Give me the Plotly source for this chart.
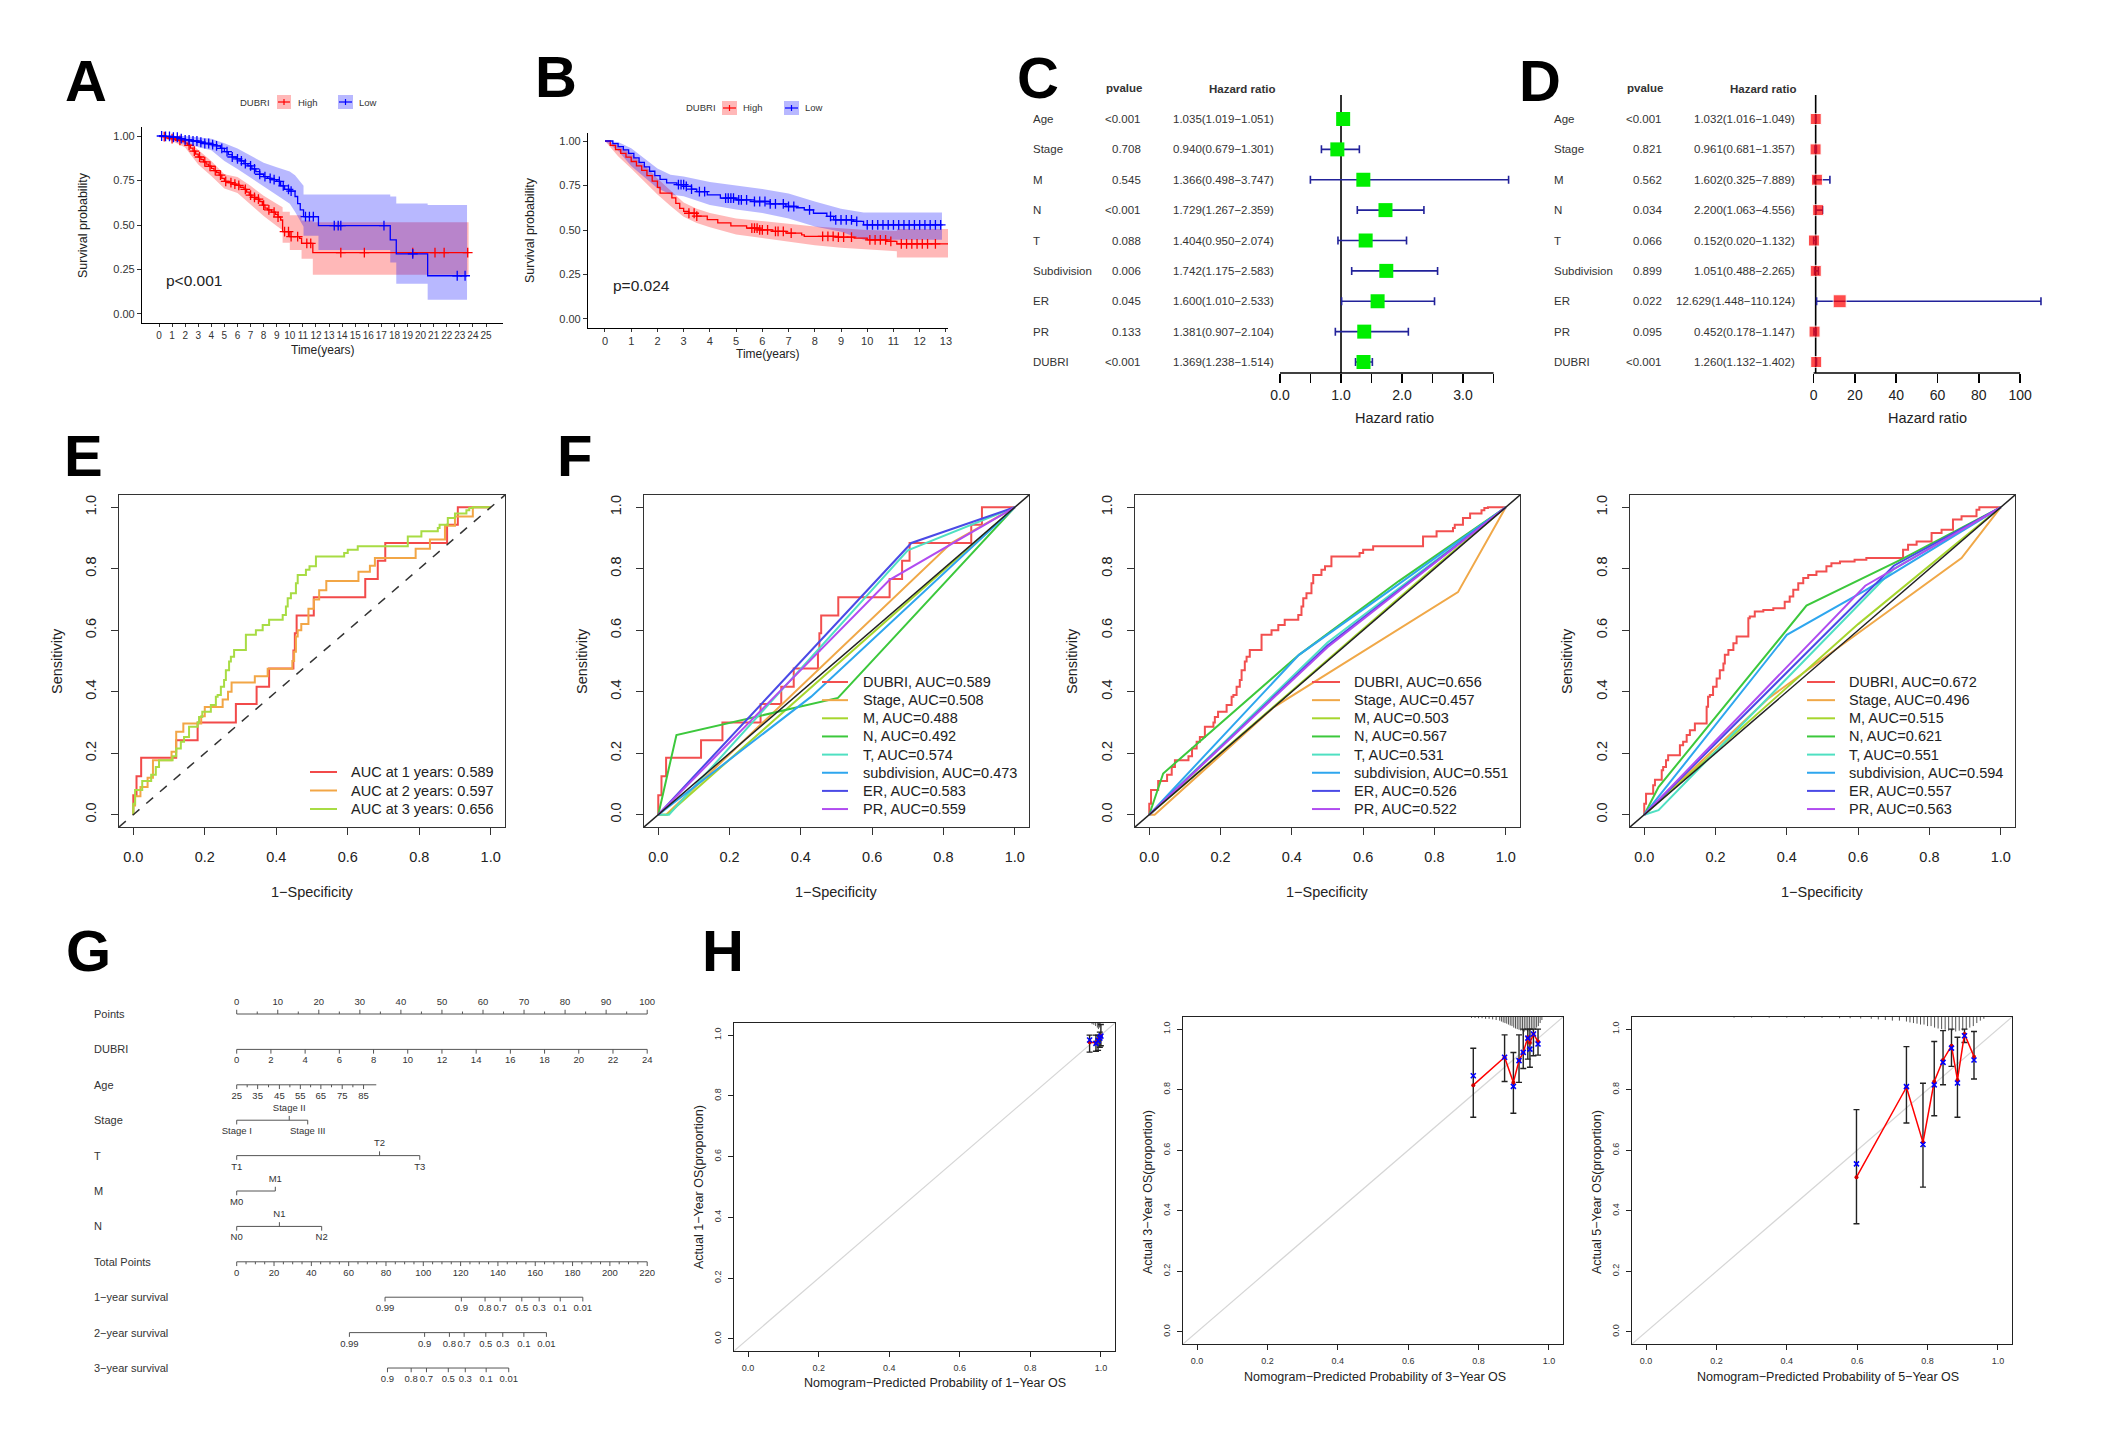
import numpy as np
import plotly.graph_objects as go

W, H = 2108, 1434
FONT = "Liberation Sans, Arial, Helvetica, sans-serif"

# ============================ DATA ============================
# ---- A : Kaplan-Meier, training cohort
A_high_t = [0, 0.3, 0.6, 0.9, 1.2, 1.5, 1.8, 2.0, 2.2, 2.4, 2.6, 2.8, 3.0, 3.2, 3.4, 3.6, 3.8, 4.0, 4.2, 4.4,
            4.6, 4.8, 5.0, 5.3, 5.6, 5.9, 6.2, 6.5, 6.7, 6.9, 7.1, 7.4, 7.7, 7.9, 8.1, 8.3, 8.6, 8.9, 9.1, 9.3,
            9.45, 10.0, 10.75, 10.9, 11.76, 23.67]
A_high_s = [1.0, 0.996, 0.99, 0.985, 0.98, 0.975, 0.968, 0.96, 0.948, 0.932, 0.915, 0.898, 0.882, 0.868, 0.855,
            0.842, 0.83, 0.818, 0.806, 0.795, 0.78, 0.762, 0.745, 0.738, 0.73, 0.723, 0.712, 0.70, 0.685, 0.668,
            0.655, 0.645, 0.632, 0.612, 0.595, 0.585, 0.572, 0.56, 0.545, 0.528, 0.463, 0.435, 0.425, 0.397,
            0.345, 0.345]
A_high_band_t = [0, 1, 2, 3, 4, 5, 6, 7, 8, 9, 9.45, 9.45, 10.0, 10.0, 10.9, 10.9, 11.76, 11.76, 23.67]
A_high_up = [1.0, 0.998, 0.985, 0.925, 0.86, 0.785, 0.77, 0.72, 0.665, 0.62, 0.60, 0.575, 0.575, 0.555, 0.555,
             0.525, 0.525, 0.515, 0.515]
A_high_lo = [1.0, 0.972, 0.935, 0.84, 0.775, 0.705, 0.68, 0.615, 0.55, 0.495, 0.47, 0.40, 0.40, 0.36, 0.36,
             0.31, 0.31, 0.22, 0.22]
A_low_t = [0, 0.5, 1.0, 1.5, 2.0, 2.5, 3.0, 3.5, 4.0, 4.4, 4.7, 5.0, 5.3, 5.6, 5.9, 6.2, 6.5, 6.8, 7.1, 7.4,
           7.7, 8.0, 8.3, 8.6, 9.0, 9.3, 9.6, 10.0, 10.4, 10.6, 10.8, 11.05, 12.19, 17.68, 18.14, 20.54, 23.55]
A_low_s = [1.0, 0.998, 0.993, 0.985, 0.978, 0.972, 0.965, 0.958, 0.952, 0.945, 0.93, 0.912, 0.895, 0.882, 0.872,
           0.86, 0.845, 0.832, 0.815, 0.80, 0.785, 0.772, 0.762, 0.755, 0.745, 0.72, 0.70, 0.69, 0.66, 0.62,
           0.585, 0.547, 0.496, 0.416, 0.338, 0.215, 0.215]
A_low_band_t = [0, 2, 4, 5, 6, 7, 8, 9, 10, 10.4, 10.8, 11.05, 11.05, 12.19, 12.19, 17.68, 17.68, 18.14, 18.14,
                20.54, 20.54, 23.55]
A_low_up = [1.0, 1.0, 0.985, 0.96, 0.93, 0.89, 0.85, 0.825, 0.80, 0.78, 0.745, 0.72, 0.672, 0.672, 0.672, 0.672,
            0.66, 0.66, 0.621, 0.621, 0.612, 0.612]
A_low_lo = [1.0, 0.955, 0.92, 0.86, 0.815, 0.765, 0.715, 0.67, 0.62, 0.575, 0.52, 0.49, 0.44, 0.44, 0.36, 0.36,
            0.29, 0.29, 0.17, 0.17, 0.08, 0.08]
A_high_cens = [0.4, 1.0, 1.6, 2.3, 2.7, 3.1, 3.5, 3.9, 4.3, 4.7, 5.1, 5.5, 5.8, 6.1, 6.6, 7.0, 7.3, 7.6, 8.0, 8.4,
               8.8, 9.1, 9.6, 9.9, 10.1, 10.6, 11.3, 11.6, 13.9, 15.7, 19.4, 21.1, 21.8, 23.6]
A_low_cens = [0.2, 0.5, 0.8, 1.1, 1.4, 1.7, 2.0, 2.3, 2.6, 2.9, 3.2, 3.5, 3.8, 4.1, 4.4, 4.8, 5.2, 5.6, 6.0, 6.3,
              6.6, 7.0, 7.3, 7.7, 8.1, 8.5, 8.8, 9.2, 9.5, 9.9, 10.1, 11.2, 11.5, 11.8, 13.4, 13.7, 13.9, 17.2,
              19.4, 22.8, 23.4]
A_xticks = list(range(0, 26))
A_pval = "p<0.001"

# ---- B : Kaplan-Meier, validation cohort
B_high_t = [0, 0.2, 0.4, 0.6, 0.8, 1.0, 1.2, 1.4, 1.6, 1.8, 2.0, 2.1, 2.55, 2.7, 2.85, 3.0, 3.2, 3.5, 3.9, 4.3,
            4.8, 5.4, 5.9, 6.4, 6.9, 7.5, 7.6, 8.8, 9.5, 10.0, 10.75, 11.13, 13.1]
B_high_s = [1.0, 0.975, 0.952, 0.93, 0.91, 0.885, 0.86, 0.835, 0.805, 0.775, 0.74, 0.707, 0.68, 0.65, 0.622,
            0.605, 0.594, 0.578, 0.558, 0.54, 0.523, 0.51, 0.501, 0.492, 0.482, 0.473, 0.464, 0.46, 0.454, 0.445,
            0.436, 0.422, 0.422]
B_high_band_t = [0, 0.5, 1, 1.5, 2, 2.5, 3, 3.5, 4, 5, 6, 7, 8, 9, 10, 11.13, 11.13, 13.1]
B_high_up = [1.0, 0.975, 0.93, 0.865, 0.79, 0.72, 0.655, 0.62, 0.595, 0.565, 0.55, 0.535, 0.52, 0.51, 0.50,
             0.495, 0.505, 0.505]
B_high_lo = [1.0, 0.915, 0.845, 0.77, 0.70, 0.635, 0.575, 0.54, 0.515, 0.475, 0.455, 0.435, 0.415, 0.40, 0.39,
             0.38, 0.345, 0.345]
B_low_t = [0, 0.3, 0.5, 0.7, 0.9, 1.1, 1.3, 1.5, 1.7, 1.9, 2.1, 2.35, 2.74, 3.1, 3.3, 3.5, 3.9, 4.4, 5.0, 5.7,
           6.3, 6.9, 7.3, 7.6, 7.95, 8.46, 8.72, 9.48, 9.86, 12.85]
B_low_s = [1.0, 0.985, 0.968, 0.95, 0.93, 0.905, 0.88, 0.855, 0.83, 0.805, 0.785, 0.765, 0.755, 0.745, 0.73,
           0.716, 0.697, 0.679, 0.669, 0.66, 0.647, 0.632, 0.625, 0.613, 0.594, 0.576, 0.557, 0.548, 0.529, 0.525]
B_low_band_t = [0, 0.5, 1, 1.5, 2, 2.5, 3, 4, 5, 6, 7, 8, 9, 9.86, 12.85]
B_low_up = [1.0, 0.995, 0.96, 0.905, 0.845, 0.81, 0.80, 0.77, 0.75, 0.73, 0.705, 0.66, 0.62, 0.598, 0.598]
B_low_lo = [1.0, 0.945, 0.86, 0.80, 0.735, 0.70, 0.69, 0.64, 0.615, 0.595, 0.565, 0.52, 0.49, 0.445, 0.445]
B_high_cens = [3.2, 3.4, 3.5, 5.6, 5.7, 5.8, 5.9, 6.0, 6.2, 6.5, 6.6, 6.8, 7.1, 8.3, 8.5, 8.7, 8.9, 9.1, 9.4,
               10.1, 10.3, 10.5, 10.7, 10.9, 11.3, 11.5, 11.7, 11.9, 12.1, 12.3, 12.6]
B_low_cens = [2.8, 2.9, 3.0, 3.1, 3.3, 3.6, 3.8, 4.6, 4.7, 4.8, 4.9, 5.1, 5.2, 5.4, 5.7, 5.9, 6.1, 6.3, 6.5, 6.8,
              7.0, 7.2, 7.8, 8.6, 8.8, 9.0, 9.2, 9.4, 9.6, 10.0, 10.2, 10.4, 10.6, 10.8, 11.0, 11.2, 11.4, 11.6,
              11.8, 12.0, 12.2, 12.4, 12.6, 12.8]
B_xticks = list(range(0, 14))
B_pval = "p=0.024"

# ---- C / D : forest plots (univariate / multivariate Cox)
FOREST_ROWS = ["Age", "Stage", "M", "N", "T", "Subdivision", "ER", "PR", "DUBRI"]
C_p = ["<0.001", "0.708", "0.545", "<0.001", "0.088", "0.006", "0.045", "0.133", "<0.001"]
C_hr = [1.035, 0.940, 1.366, 1.729, 1.404, 1.742, 1.600, 1.381, 1.369]
C_lo = [1.019, 0.679, 0.498, 1.267, 0.950, 1.175, 1.010, 0.907, 1.238]
C_hi = [1.051, 1.301, 3.747, 2.359, 2.074, 2.583, 2.533, 2.104, 1.514]
D_p = ["<0.001", "0.821", "0.562", "0.034", "0.066", "0.899", "0.022", "0.095", "<0.001"]
D_hr = [1.032, 0.961, 1.602, 2.200, 0.152, 1.051, 12.629, 0.452, 1.260]
D_lo = [1.016, 0.681, 0.325, 1.063, 0.020, 0.488, 1.448, 0.178, 1.132]
D_hi = [1.049, 1.357, 7.889, 4.556, 1.132, 2.265, 110.124, 1.147, 1.402]
C_ticks = [0, 0.5, 1, 1.5, 2, 2.5, 3, 3.5]
C_ticktext = ["0.0", "", "1.0", "", "2.0", "", "3.0", ""]
D_ticks = [0, 20, 40, 60, 80, 100]

# ---- E / F : time-dependent ROC curves (fpr, tpr) corner points
ROC_DUBRI_1Y = [(0, 0), (0.009, 0.063), (0.022, 0.125), (0.12, 0.185), (0.18, 0.242), (0.287, 0.30),
                (0.345, 0.36), (0.38, 0.416), (0.448, 0.476), (0.452, 0.534), (0.457, 0.59), (0.505, 0.648),
                (0.649, 0.707), (0.684, 0.767), (0.705, 0.826), (0.878, 0.884), (0.908, 0.943), (1.0, 1.0)]
ROC_DUBRI_2Y = [(0, 0), (0.005, 0.03), (0.02, 0.06), (0.04, 0.09), (0.055, 0.12), (0.107, 0.177),
                (0.12, 0.205), (0.14, 0.27), (0.19, 0.297), (0.20, 0.32), (0.25, 0.35), (0.265, 0.375),
                (0.275, 0.40), (0.34, 0.43), (0.376, 0.45), (0.445, 0.475), (0.45, 0.50), (0.455, 0.53),
                (0.46, 0.58), (0.47, 0.60), (0.49, 0.62), (0.505, 0.67), (0.52, 0.70), (0.54, 0.73),
                (0.63, 0.76), (0.662, 0.79), (0.676, 0.81), (0.79, 0.835), (0.83, 0.865), (0.872, 0.895),
                (0.90, 0.94), (0.95, 0.97), (1.0, 1.0)]
ROC_DUBRI_3Y = [(0, 0), (0.005, 0.036), (0.025, 0.08), (0.05, 0.11), (0.063, 0.13), (0.072, 0.155),
                (0.081, 0.177), (0.11, 0.177), (0.12, 0.19), (0.133, 0.215), (0.142, 0.237), (0.156, 0.253),
                (0.18, 0.286), (0.184, 0.30), (0.193, 0.318), (0.217, 0.335), (0.231, 0.357), (0.236, 0.384),
                (0.245, 0.389), (0.254, 0.416), (0.259, 0.438), (0.268, 0.47), (0.273, 0.498), (0.282, 0.514),
                (0.315, 0.536), (0.324, 0.585), (0.343, 0.585), (0.362, 0.60), (0.38, 0.617), (0.418, 0.634),
                (0.427, 0.65), (0.432, 0.677), (0.441, 0.704), (0.455, 0.72), (0.46, 0.753), (0.483, 0.78),
                (0.493, 0.797), (0.511, 0.808), (0.59, 0.84), (0.60, 0.851), (0.628, 0.862), (0.656, 0.873),
                (0.768, 0.873), (0.806, 0.905), (0.852, 0.922), (0.857, 0.933), (0.88, 0.943), (0.90, 0.965),
                (0.932, 0.98), (0.94, 0.99), (0.95, 0.998), (1.0, 1.0)]
ROC_DUBRI_5Y = [(0, 0), (0.005, 0.036), (0.025, 0.068), (0.03, 0.096), (0.049, 0.114), (0.053, 0.145),
                (0.061, 0.155), (0.067, 0.177), (0.1, 0.193), (0.109, 0.226), (0.119, 0.237), (0.128, 0.259),
                (0.142, 0.275), (0.175, 0.297), (0.179, 0.351), (0.184, 0.384), (0.193, 0.389), (0.203, 0.416),
                (0.212, 0.443), (0.222, 0.47), (0.226, 0.492), (0.236, 0.52), (0.25, 0.536), (0.259, 0.558),
                (0.292, 0.58), (0.296, 0.639), (0.31, 0.645), (0.334, 0.661), (0.362, 0.666), (0.394, 0.672),
                (0.408, 0.693), (0.418, 0.71), (0.432, 0.732), (0.446, 0.753), (0.46, 0.77), (0.483, 0.78),
                (0.511, 0.791), (0.525, 0.808), (0.549, 0.818), (0.59, 0.824), (0.623, 0.829), (0.726, 0.835),
                (0.74, 0.862), (0.764, 0.878), (0.806, 0.889), (0.834, 0.916), (0.866, 0.927), (0.89, 0.96),
                (0.932, 0.971), (0.94, 0.992), (0.963, 1.0), (1.0, 1.0)]
E_labels = ["AUC at 1 years: ", "AUC at 2 years: ", "AUC at 3 years: "]
E_auc = [0.589, 0.597, 0.656]

F_vars = ["DUBRI", "Stage", "M", "N", "T", "subdivision", "ER", "PR"]
F1_other = [
    [(0, 0), (0.022, 0), (0.822, 0.884), (1, 1)],                       # Stage
    [(0, 0), (0.025, 0), (1, 1)],                                       # M
    [(0, 0), (0.051, 0.259), (0.504, 0.38), (1, 1)],                    # N
    [(0, 0), (0.03, 0), (0.70, 0.86), (1, 1)],                          # T
    [(0, 0), (0.429, 0.384), (1, 1)],                                   # subdivision
    [(0, 0), (0.71, 0.884), (1, 1)],                                    # ER
    [(0, 0), (0.649, 0.764), (1, 1)],                                   # PR
]
F2_other = [
    [(0, 0), (0.015, 0), (0.35, 0.35), (0.866, 0.724), (1, 1)],
    [(0, 0), (0.8, 0.805), (1, 1)],
    [(0, 0), (0.039, 0.134), (0.42, 0.52), (0.70, 0.76), (1, 1)],
    [(0, 0), (0.5, 0.56), (1, 1)],
    [(0, 0), (0.42, 0.52), (0.69, 0.742), (1, 1)],
    [(0, 0), (0.5, 0.55), (1, 1)],
    [(0, 0), (0.5, 0.545), (1, 1)],
]
F3_other = [
    [(0, 0), (0.35, 0.38), (0.89, 0.835), (1, 1)],
    [(0, 0), (0.6, 0.62), (1, 1)],
    [(0, 0), (0.04, 0.09), (0.455, 0.68), (0.72, 0.83), (1, 1)],
    [(0, 0), (0.04, 0.015), (0.70, 0.80), (1, 1)],
    [(0, 0), (0.40, 0.585), (0.62, 0.73), (1, 1)],
    [(0, 0), (0.70, 0.81), (1, 1)],
    [(0, 0), (0.62, 0.745), (1, 1)],
]
F1_auc = [0.589, 0.508, 0.488, 0.492, 0.574, 0.473, 0.583, 0.559]
F2_auc = [0.656, 0.457, 0.503, 0.567, 0.531, 0.551, 0.526, 0.522]
F3_auc = [0.672, 0.496, 0.515, 0.621, 0.551, 0.594, 0.557, 0.563]

# ---- G : nomogram
G_rows = ["Points", "DUBRI", "Age", "Stage", "T", "M", "N", "Total Points",
          "1\u2212year survival", "2\u2212year survival", "3\u2212year survival"]
G_points_labels = [0, 10, 20, 30, 40, 50, 60, 70, 80, 90, 100]
G_dubri_labels = [0, 2, 4, 6, 8, 10, 12, 14, 16, 18, 20, 22, 24]
G_dubri_max = 24
G_age_labels = [25, 35, 45, 55, 65, 75, 85]
G_age_pts = [0, 5.1, 10.4, 15.5, 20.5, 25.7, 30.9]
G_age_end_pts = 34.0
G_stage_labels = ["Stage I", "Stage II", "Stage III"]
G_stage_pts = [0, 12.8, 17.3]
G_T_labels = ["T1", "T2", "T3"]
G_T_pts = [0, 34.8, 44.6]
G_M_labels = ["M0", "M1"]
G_M_pts = [0, 9.4]
G_N_labels = ["N0", "N1", "N2"]
G_N_pts = [0, 10.4, 20.7]
G_total_labels = [0, 20, 40, 60, 80, 100, 120, 140, 160, 180, 200, 220]
G_total_max = 220
G_surv12_labels = ["0.99", "0.9", "0.8", "0.7", "0.5", "0.3", "0.1", "0.01"]
G_1yr_total = [79.5, 120.4, 133.1, 141.2, 152.8, 162.1, 173.4, 185.5]
G_2yr_total = [60.4, 100.7, 114.0, 121.9, 133.5, 142.6, 153.9, 166.0]
G_surv3_labels = ["0.9", "0.8", "0.7", "0.5", "0.3", "0.1", "0.01"]
G_3yr_total = [80.8, 93.5, 101.7, 113.4, 122.5, 133.7, 145.8]

# ---- H : calibration curves
H1_pred = [0.968, 0.986, 0.992, 0.997, 1.0]
H1_app = [0.977, 0.975, 0.985, 0.992, 0.998]
H1_bc = [0.984, 0.973, 0.982, 0.99, 0.997]
H1_lo = [0.944, 0.947, 0.95, 0.96, 0.965]
H1_hi = [1.0, 1.0, 1.0, 1.01, 1.035]
H1_rug_x = [0.975, 0.98, 0.985, 0.99, 0.993, 0.996, 0.998]
H1_rug_h = [0.004, 0.006, 0.01, 0.015, 0.02, 0.015, 0.01]
H2_pred = [0.785, 0.874, 0.899, 0.915, 0.927, 0.94, 0.946, 0.956, 0.969]
H2_app = [0.815, 0.907, 0.824, 0.896, 0.923, 0.973, 0.955, 0.984, 0.959]
H2_bc = [0.846, 0.907, 0.811, 0.896, 0.923, 0.97, 0.934, 0.984, 0.951]
H2_lo = [0.709, 0.827, 0.722, 0.824, 0.87, 0.901, 0.874, 0.912, 0.914]
H2_hi = [0.937, 0.981, 0.923, 0.981, 1.0, 1.0, 1.0, 1.0, 1.0]
H2_rug_x = [0.78, 0.79, 0.80, 0.81, 0.82, 0.83, 0.84, 0.85, 0.86, 0.865, 0.87, 0.875, 0.88, 0.885, 0.89,
            0.895, 0.90, 0.905, 0.91, 0.915, 0.92, 0.925, 0.93, 0.935, 0.94, 0.945, 0.95, 0.955, 0.96, 0.965,
            0.97, 0.975, 0.98]
H2_rug_h = [0.003, 0.003, 0.004, 0.004, 0.006, 0.006, 0.008, 0.01, 0.012, 0.015, 0.018, 0.02, 0.022, 0.025,
            0.028, 0.03, 0.035, 0.038, 0.04, 0.042, 0.045, 0.045, 0.048, 0.045, 0.048, 0.045, 0.042, 0.045,
            0.04, 0.035, 0.03, 0.02, 0.01]
H3_pred = [0.598, 0.74, 0.787, 0.819, 0.844, 0.868, 0.885, 0.905, 0.932]
H3_app = [0.511, 0.808, 0.626, 0.827, 0.898, 0.945, 0.832, 0.984, 0.909]
H3_bc = [0.555, 0.81, 0.619, 0.816, 0.89, 0.937, 0.822, 0.978, 0.898]
H3_lo = [0.357, 0.69, 0.478, 0.714, 0.816, 0.877, 0.709, 0.956, 0.835]
H3_hi = [0.734, 0.942, 0.821, 0.959, 0.995, 1.0, 0.973, 1.0, 0.992]
H3_rug_x = [0.25, 0.30, 0.35, 0.40, 0.45, 0.50, 0.55, 0.58, 0.61, 0.64, 0.66, 0.68, 0.70, 0.72, 0.74, 0.75,
            0.76, 0.77, 0.78, 0.79, 0.80, 0.81, 0.82, 0.83, 0.84, 0.85, 0.86, 0.87, 0.88, 0.89, 0.90, 0.91,
            0.92, 0.93, 0.94, 0.95, 0.96]
H3_rug_h = [0.002, 0.002, 0.002, 0.002, 0.003, 0.003, 0.004, 0.004, 0.005, 0.006, 0.008, 0.01, 0.012, 0.012,
            0.015, 0.018, 0.02, 0.022, 0.025, 0.025, 0.03, 0.03, 0.035, 0.038, 0.04, 0.042, 0.045, 0.045,
            0.048, 0.045, 0.045, 0.04, 0.035, 0.03, 0.02, 0.012, 0.006]
UNIT_TICKS = [0, 0.2, 0.4, 0.6, 0.8, 1.0]
UNIT_TICKTEXT = ["0.0", "0.2", "0.4", "0.6", "0.8", "1.0"]

# ============================ HELPERS ============================
def X(p):
    return p / W


def Y(p):
    return 1 - p / H


layout = dict(width=W, height=H, margin=dict(l=0, r=0, t=0, b=0), paper_bgcolor="white",
              plot_bgcolor="white", showlegend=False, hovermode=False, template="none",
              font=dict(family=FONT, color="#222"))
traces, ann, shapes = [], [], []
_n = [0]


def new_axes(box, xr, yr, xs=None, ys=None):
    _n[0] += 1
    k = _n[0]
    s = "" if k == 1 else str(k)
    x0, x1, yt, yb = box
    xa = dict(domain=[X(x0), X(x1)], range=xr, anchor="y" + s, showgrid=False, zeroline=False, fixedrange=True)
    ya = dict(domain=[Y(yb), Y(yt)], range=yr, anchor="x" + s, showgrid=False, zeroline=False, fixedrange=True)
    if xs:
        xa.update(xs)
    if ys:
        ya.update(ys)
    layout["xaxis" + s] = xa
    layout["yaxis" + s] = ya
    return "x" + s, "y" + s


def text(x, y, t, size, anchor="left", valign="middle", bold=False, angle=0, color="#222",
         xref="paper", yref="paper"):
    ann.append(dict(x=X(x) if xref == "paper" else x, y=Y(y) if yref == "paper" else y,
                    xref=xref, yref=yref, text=("<b>%s</b>" % t) if bold else t, showarrow=False,
                    xanchor=anchor, yanchor=valign, textangle=angle,
                    font=dict(family=FONT, size=size, color=color)))


def pline(x0, y0, x1, y1, color, width, dash=None):
    d = dict(type="line", xref="paper", yref="paper", x0=X(x0), y0=Y(y0), x1=X(x1), y1=Y(y1),
             line=dict(color=color, width=width))
    if dash:
        d["line"]["dash"] = dash
    shapes.append(d)


def unzip(pairs):
    return [p[0] for p in pairs], [p[1] for p in pairs]


def step_at(t, s, tc):
    idx = np.searchsorted(np.array(t), np.array(tc), side="right") - 1
    return [s[i] for i in idx]


# ============================ PANEL LETTERS ============================
for L, lx, ly in [("A", 63, 81), ("B", 533, 77), ("C", 1015, 78), ("D", 1517, 81),
                  ("E", 62, 456), ("F", 555, 456), ("G", 64, 950), ("H", 700, 950)]:
    text(lx, ly, L, 58, bold=True, color="black")

# ============================ A / B : KM ============================
RED, BLUE = "#FF0000", "#0000FF"
RED_F, BLUE_F = "rgba(255,0,0,0.28)", "rgba(0,0,255,0.28)"


def km_panel(box, xr, yr, xticks, xtick_size, groups, pval, p_xy, ytitle_xy, xtitle_xy, legend):
    gx = dict(showline=True, linecolor="black", linewidth=1.1, ticks="outside", ticklen=3, tickwidth=1,
              tickcolor="#333", tickvals=xticks, tickangle=0, tickfont=dict(size=xtick_size, color="#333"))
    gy = dict(showline=True, linecolor="black", linewidth=1.1, ticks="outside", ticklen=4, tickwidth=1,
              tickcolor="#333", tickvals=[0, 0.25, 0.5, 0.75, 1.0],
              ticktext=["0.00", "0.25", "0.50", "0.75", "1.00"], tickfont=dict(size=11, color="#333"))
    xa, ya = new_axes(box, xr, yr, gx, gy)
    for g in groups:
        traces.append(go.Scatter(x=g["bt"], y=g["bl"], mode="lines", line=dict(width=0, color=g["col"]),
                                 xaxis=xa, yaxis=ya))
        traces.append(go.Scatter(x=g["bt"], y=g["bu"], mode="lines", line=dict(width=0, color=g["col"]),
                                 fill="tonexty", fillcolor=g["fill"], xaxis=xa, yaxis=ya))
    for g in groups:
        traces.append(go.Scatter(x=g["t"], y=g["s"], mode="lines", line=dict(color=g["col"], width=1.3,
                                 shape="hv"), xaxis=xa, yaxis=ya))
        traces.append(go.Scatter(x=g["c"], y=step_at(g["t"], g["s"], g["c"]), mode="markers",
                                 marker=dict(symbol="cross-thin", size=7, line=dict(width=1.3, color=g["col"])),
                                 xaxis=xa, yaxis=ya))
    text(p_xy[0], p_xy[1], pval, 15.5, color="#222")
    text(ytitle_xy[0], ytitle_xy[1], "Survival probability", 12.5, anchor="center", angle=-90)
    text(xtitle_xy[0], xtitle_xy[1], "Time(years)", 12, anchor="center")
    dcx, ly, keys = legend
    text(dcx, ly, "DUBRI", 9.5, anchor="center", color="#333")
    for (k0, k1, col, fill, lab_x, lab) in keys:
        shapes.append(dict(type="rect", xref="paper", yref="paper", x0=X(k0), x1=X(k1), y0=Y(ly + 7),
                           y1=Y(ly - 7), fillcolor=fill, line=dict(width=0)))
        pline(k0 + 1, ly, k1 - 1, ly, col, 1.2)
        pline((k0 + k1) / 2, ly - 3, (k0 + k1) / 2, ly + 3, col, 1.2)
        text(lab_x, ly, lab, 9.5, color="#333")


km_panel((142, 503, 127, 323), [-1.3, 26.3], [-0.0506, 1.0506], A_xticks, 10,
         [dict(t=A_high_t, s=A_high_s, bt=A_high_band_t, bu=A_high_up, bl=A_high_lo, c=A_high_cens,
               col=RED, fill=RED_F),
          dict(t=A_low_t, s=A_low_s, bt=A_low_band_t, bu=A_low_up, bl=A_low_lo, c=A_low_cens,
               col=BLUE, fill=BLUE_F)],
         A_pval, (164, 280), (83, 225), (323, 350),
         (254.5, 102, [(277, 291, RED, RED_F, 296, "High"), (338, 353, BLUE, BLUE_F, 357, "Low")]))

km_panel((588, 948, 133, 328), [-0.648, 13.08], [-0.0506, 1.045], B_xticks, 11,
         [dict(t=B_high_t, s=B_high_s, bt=B_high_band_t, bu=B_high_up, bl=B_high_lo, c=B_high_cens,
               col=RED, fill=RED_F),
          dict(t=B_low_t, s=B_low_s, bt=B_low_band_t, bu=B_low_up, bl=B_low_lo, c=B_low_cens,
               col=BLUE, fill=BLUE_F)],
         B_pval, (611, 285), (530, 230), (768, 354),
         (701, 108, [(722, 737, RED, RED_F, 741, "High"), (784, 799, BLUE, BLUE_F, 803, "Low")]))

# ============================ C / D : forest ============================
ROW_IDX = [9, 8, 7, 6, 5, 4, 3, 2, 1]


def forest(box, xr, axis_max, tickvals, ticktext, pv, hr, lo, hi, color, msize, cols, xlab_cx):
    fx = dict(showline=False, ticks="outside", ticklen=9, tickwidth=1.5, tickcolor="black",
              tickvals=tickvals, ticktext=ticktext, tickfont=dict(size=14, color="#222"))
    xa, ya = new_axes(box, xr, [0.638, 9.79], fx, dict(visible=False))
    shapes.append(dict(type="line", xref=xa, yref=ya + " domain", x0=0, x1=axis_max, y0=0, y1=0,
                       line=dict(color="black", width=1.6)))
    shapes.append(dict(type="line", xref=xa, yref=ya + " domain", x0=1, x1=1, y0=0, y1=1, layer="below",
                       line=dict(color="black", width=1.6)))
    traces.append(go.Scatter(x=hr, y=ROW_IDX, mode="markers",
                             marker=dict(symbol="square", size=msize, color=color),
                             error_x=dict(type="data", symmetric=False,
                                          array=[h - v for h, v in zip(hi, hr)],
                                          arrayminus=[v - l for v, l in zip(hr, lo)],
                                          color="#22229a", thickness=1.6, width=4),
                             xaxis=xa, yaxis=ya))
    for i, name in enumerate(FOREST_ROWS):
        text(cols[0], ROW_IDX[i], name, 11.5, yref=ya, color="#333")
        text(cols[1], ROW_IDX[i], pv[i], 11.5, anchor="right", yref=ya, color="#333")
        text(cols[2], ROW_IDX[i], "%.3f(%.3f\u2212%.3f)" % (hr[i], lo[i], hi[i]), 11.5, anchor="right",
             yref=ya, color="#333")
    text(cols[1] + 1, 88, "pvalue", 11.5, anchor="right", bold=True, color="#333")
    text(cols[2] + 1, 89, "Hazard ratio", 11.5, anchor="right", bold=True, color="#333")
    text(xlab_cx, 418, "Hazard ratio", 14.5, anchor="center")


forest((1270, 1515, 95, 373), [-0.164, 3.852], 3.5, C_ticks, C_ticktext, C_p, C_hr, C_lo, C_hi,
       "#00EE00", 14, (1031, 1143, 1276), 1394)
forest((1805, 2050, 95, 373), [-4.17, 114.5], 100, D_ticks, [str(v) for v in D_ticks], D_p, D_hr, D_lo,
       D_hi, "#FF0000", [11, 11, 11, 11, 11, 11, 13, 11, 11], (1552, 1664, 1797), 1927)

# ============================ E / F : ROC ============================
RB = dict(showline=True, mirror=True, linecolor="#333", linewidth=1.3, ticks="outside", ticklen=7,
          tickwidth=1.1, tickcolor="#333", tickvals=UNIT_TICKS, ticktext=UNIT_TICKTEXT,
          tickfont=dict(size=14.5, color="#222"), ticklabelstandoff=9)
E_COLORS = ["#F24A4A", "#F2A646", "#A8DC44"]
F_COLORS = ["#F24F4F", "#F0A848", "#A6D62E", "#3CC83C", "#4FE0C2", "#2EA6EE", "#4A4AE6", "#B04CF0"]


def roc_panel(box, curves, diag_dash, diag_color, leg_line, leg_text_x, leg_y, labels, ytitle_x):
    xa, ya = new_axes(box, [-0.04, 1.04], [-0.04, 1.04], dict(RB), dict(RB, tickangle=-90))
    for pairs, col, shp in curves:
        xs, ys = unzip(pairs)
        traces.append(go.Scatter(x=xs, y=ys, mode="lines", line=dict(color=col, width=2, shape=shp),
                                 xaxis=xa, yaxis=ya))
    traces.append(go.Scatter(x=[-0.04, 1.04], y=[-0.04, 1.04], mode="lines",
                             line=dict(color=diag_color, width=1.5, dash=diag_dash), xaxis=xa, yaxis=ya))
    for (pairs, col, shp), lab, ly in zip(curves, labels, leg_y):
        pline(leg_line[0], ly, leg_line[1], ly, col, 2)
        text(leg_text_x, ly, lab, 14.5)
    text(ytitle_x, (box[2] + box[3]) / 2, "Sensitivity", 14.5, anchor="center", angle=-90)
    text((box[0] + box[1]) / 2, 892, "1\u2212Specificity", 14.5, anchor="center")


roc_panel((119, 505, 495, 827),
          [(ROC_DUBRI_1Y, E_COLORS[0], "vh"), (ROC_DUBRI_2Y, E_COLORS[1], "vh"),
           (ROC_DUBRI_3Y, E_COLORS[2], "vh")],
          "dash", "#333", (310, 337), 349, [772, 790.5, 809],
          ["%s%.3f" % (l, a) for l, a in zip(E_labels, E_auc)], 57)

F_LEG_Y = [682 + i * 18.15 for i in range(8)]
for box, dubri, others, aucs, lline, ltx, ytx in [
        ((644, 1029, 495, 827), ROC_DUBRI_1Y, F1_other, F1_auc, (822, 848), 861, 582),
        ((1135, 1520, 495, 827), ROC_DUBRI_3Y, F2_other, F2_auc, (1312, 1340), 1352, 1072),
        ((1630, 2015, 495, 827), ROC_DUBRI_5Y, F3_other, F3_auc, (1807, 1835), 1847, 1567)]:
    curves = [(dubri, F_COLORS[0], "vh")] + [(o, c, "linear") for o, c in zip(others, F_COLORS[1:])]
    roc_panel(box, curves, "solid", "#222", lline, ltx, F_LEG_Y,
              ["%s, AUC=%.3f" % (v, a) for v, a in zip(F_vars, aucs)], ytx)

# ============================ G : nomogram ============================
gxa, gya = new_axes((224.4, 659.5, 990, 1390), [-3, 103], [0.379, 11.678], dict(visible=False),
                    dict(visible=False))
segx, segy, tx, ty, tt = [], [], [], [], []


def seg(x0, y0, x1, y1):
    segx.extend([x0, x1, None])
    segy.extend([y0, y1, None])


def lab(x, y, t):
    tx.append(x)
    ty.append(y)
    tt.append(t)


TK, tk, LO = 0.12, 0.07, 0.33
rows = {name: 11 - i for i, name in enumerate(G_rows)}

r = rows["Points"]
seg(0, r, 100, r)
for v in G_points_labels:
    seg(v, r, v, r + TK)
    lab(v, r + LO, str(v))
for a, b in zip(G_points_labels[:-1], G_points_labels[1:]):
    seg((a + b) / 2, r, (a + b) / 2, r + tk)

r = rows["DUBRI"]
seg(0, r, 100, r)
for v in G_dubri_labels:
    p = v / G_dubri_max * 100
    seg(p, r, p, r - TK)
    lab(p, r - LO, str(v))

r = rows["Age"]
seg(0, r, G_age_end_pts, r)
for v, p in zip(G_age_labels, G_age_pts):
    seg(p, r, p, r - TK)
    lab(p, r - LO, str(v))
for a, b in zip(G_age_pts[:-1], G_age_pts[1:]):
    seg((a + b) / 2, r, (a + b) / 2, r - tk)

for name, labels, pts, sides in [("Stage", G_stage_labels, G_stage_pts, ["b", "a", "b"]),
                                 ("T", G_T_labels, G_T_pts, ["b", "a", "b"]),
                                 ("M", G_M_labels, G_M_pts, ["b", "a"]),
                                 ("N", G_N_labels, G_N_pts, ["b", "a", "b"])]:
    r = rows[name]
    seg(min(pts), r, max(pts), r)
    for l, p, sd in zip(labels, pts, sides):
        d = 1 if sd == "a" else -1
        seg(p, r, p, r + d * TK)
        lab(p, r + d * LO, l)

r = rows["Total Points"]
seg(0, r, 100, r)
for v in G_total_labels:
    p = v / G_total_max * 100
    seg(p, r, p, r - TK)
    lab(p, r - LO, str(v))
for a, b in zip(G_total_labels[:-1], G_total_labels[1:]):
    for k in (1, 2, 3):
        p = (a + (b - a) * k / 4) / G_total_max * 100
        seg(p, r, p, r - tk)

for name, labels, totals in [(G_rows[8], G_surv12_labels, G_1yr_total),
                             (G_rows[9], G_surv12_labels, G_2yr_total),
                             (G_rows[10], G_surv3_labels, G_3yr_total)]:
    r = rows[name]
    ps = [t / G_total_max * 100 for t in totals]
    seg(min(ps), r, max(ps), r)
    for l, p in zip(labels, ps):
        seg(p, r, p, r - TK)
        lab(p, r - LO, l)

traces.append(go.Scatter(x=segx, y=segy, mode="lines", line=dict(color="#555", width=1), xaxis=gxa,
                         yaxis=gya, cliponaxis=False))
traces.append(go.Scatter(x=tx, y=ty, text=tt, mode="text", textfont=dict(family=FONT, size=9.5, color="#333"),
                         xaxis=gxa, yaxis=gya, cliponaxis=False))
for name in G_rows:
    text(92, rows[name], name, 11, yref=gya, color="#333")

# ============================ H : calibration ============================
HB = dict(showline=True, mirror=True, linecolor="#222", linewidth=1.3, ticks="outside", ticklen=5,
          tickwidth=1, tickcolor="#222", tickvals=UNIT_TICKS, ticktext=UNIT_TICKTEXT,
          tickfont=dict(size=9, color="#333"), ticklabelstandoff=3)


def calib(box, pred, app, bc, lo, hi, rug_x, rug_h, yr_label, xt_c, xt_y, yt_x, yt_c):
    xa, ya = new_axes(box, [-0.04, 1.04], [-0.04, 1.04], dict(HB), dict(HB, tickangle=-90))
    traces.append(go.Scatter(x=[-0.04, 1.04], y=[-0.04, 1.04], mode="lines",
                             line=dict(color="#d6d6d6", width=1.2), xaxis=xa, yaxis=ya))
    rx, ry = [], []
    for x, h in zip(rug_x, rug_h):
        rx.extend([x, x, None])
        ry.extend([1.04, 1.04 - h, None])
    traces.append(go.Scatter(x=rx, y=ry, mode="lines", line=dict(color="#555", width=1), xaxis=xa,
                             yaxis=ya))
    traces.append(go.Scatter(x=pred, y=lo, mode="markers", marker=dict(size=1, color="rgba(0,0,0,0)"),
                             error_y=dict(type="data", symmetric=False, array=[h - l for h, l in zip(hi, lo)],
                                          arrayminus=[0] * len(lo), color="#222", thickness=1.4, width=3),
                             xaxis=xa, yaxis=ya))
    traces.append(go.Scatter(x=pred, y=app, mode="lines+markers", line=dict(color="#FF0000", width=1.5),
                             marker=dict(size=4, color="#D00000"), xaxis=xa, yaxis=ya))
    traces.append(go.Scatter(x=pred, y=bc, mode="markers",
                             marker=dict(symbol="x-thin", size=5, line=dict(width=1.6, color="#0000FF")),
                             xaxis=xa, yaxis=ya))
    text(xt_c, xt_y, "Nomogram\u2212Predicted Probability of %s OS" % yr_label, 12.5, anchor="center")
    text(yt_x, yt_c, "Actual %s OS(proportion)" % yr_label, 12.5, anchor="center", angle=-90)


calib((734, 1115, 1023, 1351), H1_pred, H1_app, H1_bc, H1_lo, H1_hi, H1_rug_x, H1_rug_h, "1\u2212Year",
      935, 1383, 699, 1187)
calib((1183, 1563, 1017, 1344), H2_pred, H2_app, H2_bc, H2_lo, H2_hi, H2_rug_x, H2_rug_h, "3\u2212Year",
      1375, 1377, 1148, 1192)
calib((1632, 2012, 1017, 1344), H3_pred, H3_app, H3_bc, H3_lo, H3_hi, H3_rug_x, H3_rug_h, "5\u2212Year",
      1828, 1377, 1597, 1192)

layout["annotations"] = ann
layout["shapes"] = shapes
fig = go.Figure(data=traces)
fig.update_layout(**layout)
fig.write_html("out.html", config={"displayModeBar": False, "staticPlot": True})
